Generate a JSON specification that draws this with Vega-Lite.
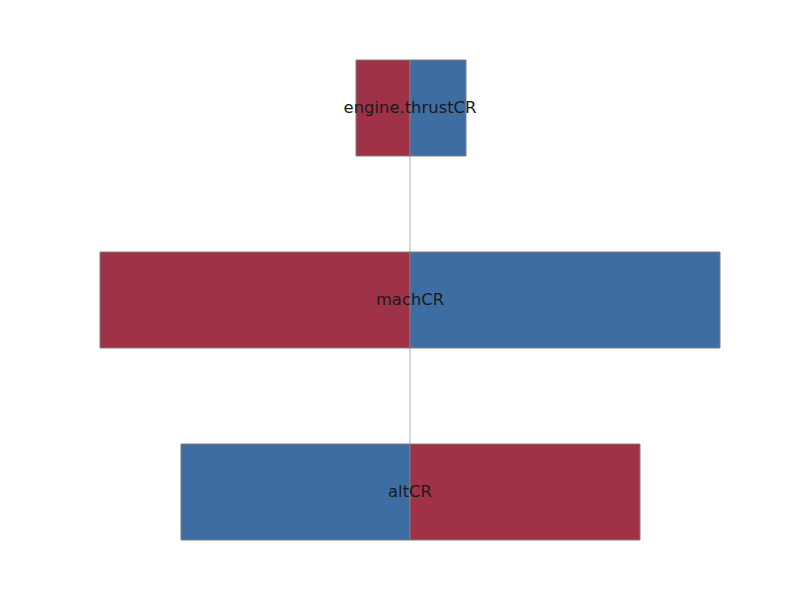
{
  "$schema": "https://vega.github.io/schema/vega-lite/v6.json",
  "autosize": {"type": "none"},
  "width": 620,
  "height": 480,
  "padding": {"left": 100, "top": 60, "right": 80, "bottom": 60},
  "background": "white",
  "config": {"view": {"stroke": null}},
  "datasets": {
    "bars": [
      {"parameter": "engine.thrustCR", "input": "high", "start": -54, "end": 0},
      {"parameter": "engine.thrustCR", "input": "low", "start": 0, "end": 56},
      {"parameter": "machCR", "input": "high", "start": -310, "end": 0},
      {"parameter": "machCR", "input": "low", "start": 0, "end": 310},
      {"parameter": "altCR", "input": "low", "start": -229, "end": 0},
      {"parameter": "altCR", "input": "high", "start": 0, "end": 230}
    ],
    "labels": [
      {"parameter": "engine.thrustCR"},
      {"parameter": "machCR"},
      {"parameter": "altCR"}
    ]
  },
  "resolve": {"scale": {"x": "shared"}},
  "layer": [
    {
      "data": {"values": [{"base": 0}]},
      "mark": {"type": "rule", "color": "#b0b0b0", "strokeWidth": 1},
      "encoding": {
        "x": {"field": "base", "type": "quantitative", "scale": {"domain": [-310, 310], "nice": false, "zero": false}, "axis": null}
      }
    },
    {
      "data": {"name": "bars"},
      "mark": {"type": "bar", "stroke": "#7f7f7f", "strokeWidth": 1},
      "encoding": {
        "y": {"field": "parameter", "type": "nominal", "sort": ["engine.thrustCR", "machCR", "altCR"], "scale": {"paddingInner": 0.5, "paddingOuter": 0}, "axis": null},
        "x": {"field": "start", "type": "quantitative", "scale": {"domain": [-310, 310], "nice": false, "zero": false}, "axis": null},
        "x2": {"field": "end"},
        "color": {"field": "input", "type": "nominal", "scale": {"domain": ["high", "low"], "range": ["#a03248", "#3e6da4"]}, "legend": null}
      }
    },
    {
      "data": {"name": "labels"},
      "mark": {"type": "text", "font": "DejaVu Sans", "fontSize": 16.4, "color": "#1a1a1a", "align": "center", "baseline": "middle"},
      "encoding": {
        "y": {"field": "parameter", "type": "nominal", "sort": ["engine.thrustCR", "machCR", "altCR"], "axis": null},
        "x": {"datum": 0, "type": "quantitative"},
        "text": {"field": "parameter"}
      }
    }
  ]
}
